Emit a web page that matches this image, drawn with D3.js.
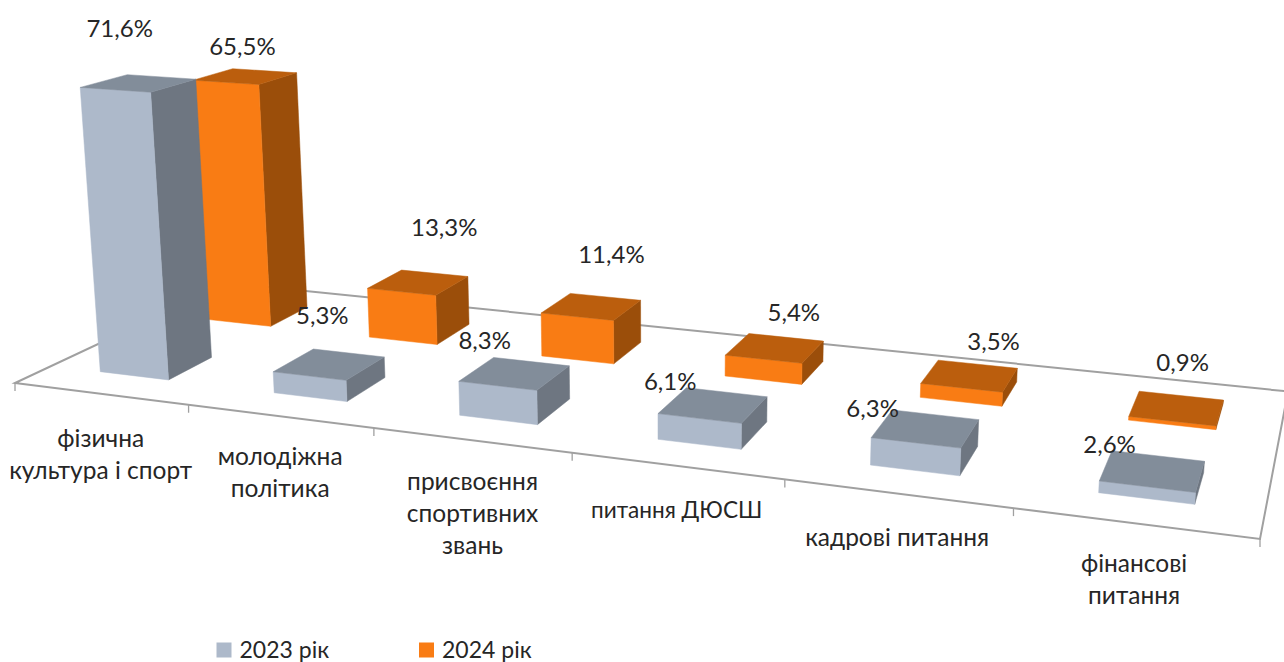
<!DOCTYPE html>
<html>
<head>
<meta charset="utf-8">
<script src="https://cdn.jsdelivr.net/npm/d3@7"></script>
<style>
  html, body { margin: 0; padding: 0; background: #fff; }
  svg { display: block; }
  text { font-family: "Lato", sans-serif; fill: #262626; }
</style>
</head>
<body>
<div id="chart"></div>
<script>
const categories = ["фізична|культура і спорт", "молодіжна|політика", "присвоєння|спортивних|звань", "питання ДЮСШ", "кадрові питання", "фінансові|питання"];
const seriesNames = ["2023 рік", "2024 рік"];
const values2023 = [71.6, 5.3, 8.3, 6.1, 6.3, 2.6];
const values2024 = [65.5, 13.3, 11.4, 5.4, 3.5, 0.9];

const width = 1284, height = 662;

// floor of the 3d plot: front left, front right, back right, back left
const floor = [[15, 383], [1260, 539], [1288, 391.5], [228, 283]];
const vanish = [667, 8400]; // where the verticals meet

const colors = {
  "2023 рік": { front: "#adb9ca", top: "#828d9a", side: "#6e7681" },
  "2024 рік": { front: "#f97c14", top: "#bb5e0d", side: "#9b4e0a" }
};

// label shifts from the middle of each bar's top
const valueShift = {
  "2023 рік": [[-19, -55], [-7, -49], [-30, -33], [-43, -23], [-53, -20], [-43, -26]],
  "2024 рік": [[-3, -30], [26, -55], [20, -52], [19, -35], [24, -34], [6, -46]]
};
// category label shifts from the floor's front edge, and their sizes
const categoryShift = [[1.5, 45], [1, 40.5], [1, 41.5], [-1, 44], [-2, 44], [-3.5, 39.5]];
const categorySize = [24.5, 24.5, 24.5, 22.6, 24.5, 24.5];

const x = d3.scaleBand().domain(categories).range([-0.0015, 1.0025]).paddingInner(0.6).paddingOuter(0.3);
const z = d3.scaleBand().domain(seriesNames).range([0, 1]).paddingInner(0.6).paddingOuter(0.3);
const y = d3.scaleLinear().domain([0, 71.6]).range([0, -0.0348]);

// camera matrix from the floor corners, third column is the vertical
const camera = (() => {
  const [[x0, y0], [x1, y1], [x2, y2], [x3, y3]] = floor;
  const dx1 = x1 - x2, dx2 = x3 - x2, sx = x0 - x1 + x2 - x3;
  const dy1 = y1 - y2, dy2 = y3 - y2, sy = y0 - y1 + y2 - y3;
  const den = dx1 * dy2 - dx2 * dy1;
  const g = (sx * dy2 - dx2 * sy) / den;
  const h = (dx1 * sy - sx * dy1) / den;
  return {
    a: x1 - x0 + g * x1, b: x3 - x0 + h * x3, c: x0,
    d: y1 - y0 + g * y1, e: y3 - y0 + h * y3, f: y0,
    g, h
  };
})();

const project = (u, v, value) => {
  const m = camera;
  const s = y(value);
  const w = m.g * u + m.h * v + 1 + s;
  return [
    (m.a * u + m.b * v + m.c + s * vanish[0]) / w,
    (m.d * u + m.e * v + m.f + s * vanish[1]) / w
  ];
};

const svg = d3.select("#chart").append("svg")
  .attr("width", width)
  .attr("height", height)
  .attr("viewBox", [0, 0, width, height]);

const line = d3.line();
const poly = pts => line(pts) + "Z";

// floor outline and ticks
const grid = svg.append("g").attr("fill", "none").attr("stroke", "#a0a0a0");
grid.append("path")
  .attr("stroke-width", 2)
  .attr("d", poly(floor));
grid.selectAll("line")
  .data(d3.range(categories.length + 1))
  .join("line")
  .attr("stroke-width", 1.3)
  .attr("x1", i => project(i / categories.length, 0, 0)[0])
  .attr("y1", i => project(i / categories.length, 0, 0)[1])
  .attr("x2", i => project(i / categories.length, 0, 0)[0])
  .attr("y2", i => project(i / categories.length, 0, 0)[1] + 8);

// back row goes first so the front row covers it
const rows = [
  { name: seriesNames[1], values: values2024 },
  { name: seriesNames[0], values: values2023 }
];

const drawBar = (g, name, cat, value) => {
  const u0 = x(cat), u1 = u0 + x.bandwidth();
  const v0 = z(name), v1 = v0 + z.bandwidth();
  const c = colors[name];
  g.append("path").attr("fill", c.side).attr("stroke", c.side).attr("stroke-width", 0.5)
    .attr("d", poly([project(u1, v0, 0), project(u1, v1, 0), project(u1, v1, value), project(u1, v0, value)]));
  g.append("path").attr("fill", c.front).attr("stroke", c.front).attr("stroke-width", 0.5)
    .attr("d", poly([project(u0, v0, 0), project(u1, v0, 0), project(u1, v0, value), project(u0, v0, value)]));
  g.append("path").attr("fill", c.top).attr("stroke", c.top).attr("stroke-width", 0.5)
    .attr("d", poly([project(u0, v0, value), project(u1, v0, value), project(u1, v1, value), project(u0, v1, value)]));
};

rows.forEach(row => {
  const g = svg.append("g").attr("class", "row");
  categories.forEach((cat, i) => drawBar(g, row.name, cat, row.values[i]));
});

// value labels
const format = v => d3.format(".1f")(v).replace(".", ",") + "%";
rows.forEach(row => {
  svg.append("g")
    .selectAll("text")
    .data(row.values)
    .join("text")
    .attr("text-anchor", "middle")
    .attr("dy", "0.35em")
    .style("font-size", "24px")
    .attr("x", (d, i) => project(x(categories[i]) + x.bandwidth() / 2, z(row.name) + z.bandwidth() / 2, d)[0] + valueShift[row.name][i][0])
    .attr("y", (d, i) => project(x(categories[i]) + x.bandwidth() / 2, z(row.name) + z.bandwidth() / 2, d)[1] + valueShift[row.name][i][1])
    .text(format);
});

// category labels, wrapped like the original
const catLabels = svg.append("g")
  .selectAll("text")
  .data(categories)
  .join("text")
  .attr("text-anchor", "middle")
  .style("font-size", (d, i) => categorySize[i] + "px")
  .attr("transform", (d, i) => {
    const p = project(x(d) + x.bandwidth() / 2, 0, 0);
    return `translate(${p[0] + categoryShift[i][0]},${p[1] + categoryShift[i][1]})`;
  });
catLabels.selectAll("tspan")
  .data(d => d.split("|"))
  .join("tspan")
  .attr("x", 0)
  .attr("dy", (d, i) => (i === 0 ? "0.35em" : "32px"))
  .text(d => d);

// legend
const legend = svg.append("g")
  .selectAll("g")
  .data(seriesNames)
  .join("g")
  .attr("transform", (d, i) => `translate(${216.5 + i * 202.5},642.5)`);
legend.append("rect")
  .attr("width", 15)
  .attr("height", 15)
  .attr("fill", d => colors[d].front);
legend.append("text")
  .attr("x", 23)
  .attr("y", 15)
  .style("font-size", "23px")
  .text(d => d);
</script>
</body>
</html>
